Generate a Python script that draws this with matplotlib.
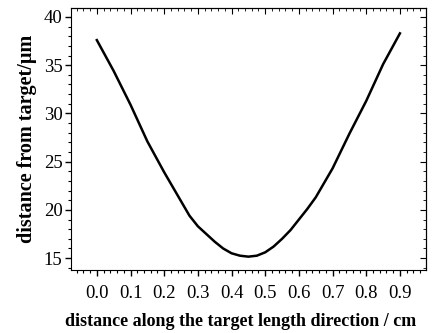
import matplotlib
matplotlib.use("Agg")
import matplotlib.pyplot as plt
from matplotlib.ticker import MultipleLocator

# values
pos = [0.00, 0.05, 0.10, 0.15, 0.20, 0.25, 0.275, 0.30, 0.325, 0.35, 0.375, 0.40, 0.425,
       0.45, 0.475, 0.50, 0.525, 0.55, 0.575, 0.60, 0.625, 0.65, 0.70, 0.75, 0.80, 0.85, 0.90]
dist = [37.6, 34.4, 30.9, 27.1, 23.9, 20.9, 19.4, 18.3, 17.5, 16.7, 16.0, 15.5, 15.25,
        15.15, 15.25, 15.6, 16.2, 17.0, 17.9, 19.0, 20.1, 21.3, 24.3, 27.9, 31.3, 35.1, 38.3]
xticks = [0.0, 0.1, 0.2, 0.3, 0.4, 0.5, 0.6, 0.7, 0.8, 0.9]
yticks = [15, 20, 25, 30, 35, 40]

plt.rcParams['font.family'] = ['Liberation Serif', 'DejaVu Serif']

fig = plt.figure(figsize=(4.35, 3.33), dpi=100)
ax = fig.add_axes([0.163, 0.189, 0.816, 0.787])
ax.plot(pos, dist, color='black', linewidth=1.8)

ax.set_xlim(-0.077, 0.977)
ax.set_ylim(13.76, 40.93)
ax.set_xticks(xticks)
ax.set_xticklabels(["%.1f" % t for t in xticks])
ax.set_yticks(yticks)
ax.xaxis.set_minor_locator(MultipleLocator(0.02))
ax.yaxis.set_minor_locator(MultipleLocator(1))
ax.tick_params(which='major', direction='out', length=4, width=1, labelsize=13.5, pad=2)
ax.tick_params(which='minor', direction='out', length=2, width=0.8)
ax.tick_params(axis='x', pad=7)

# inward ticks on top and right, no labels
top = ax.secondary_xaxis('top')
top.set_xticks(xticks)
top.xaxis.set_minor_locator(MultipleLocator(0.02))
top.tick_params(which='major', direction='in', length=4, labeltop=False)
top.tick_params(which='minor', direction='in', length=2)
right = ax.secondary_yaxis('right')
right.set_yticks(yticks)
right.yaxis.set_minor_locator(MultipleLocator(1))
right.tick_params(which='major', direction='in', length=4, labelright=False)
right.tick_params(which='minor', direction='in', length=2)

ax.set_xlabel('distance along the target length direction / cm', fontsize=13,
              fontweight='bold')
ax.xaxis.set_label_coords(0.478, -0.165)
ax.set_ylabel('distance from target/\u03bcm', fontsize=14.5, fontweight='bold', labelpad=5)

fig.savefig('out.png', dpi=100)
